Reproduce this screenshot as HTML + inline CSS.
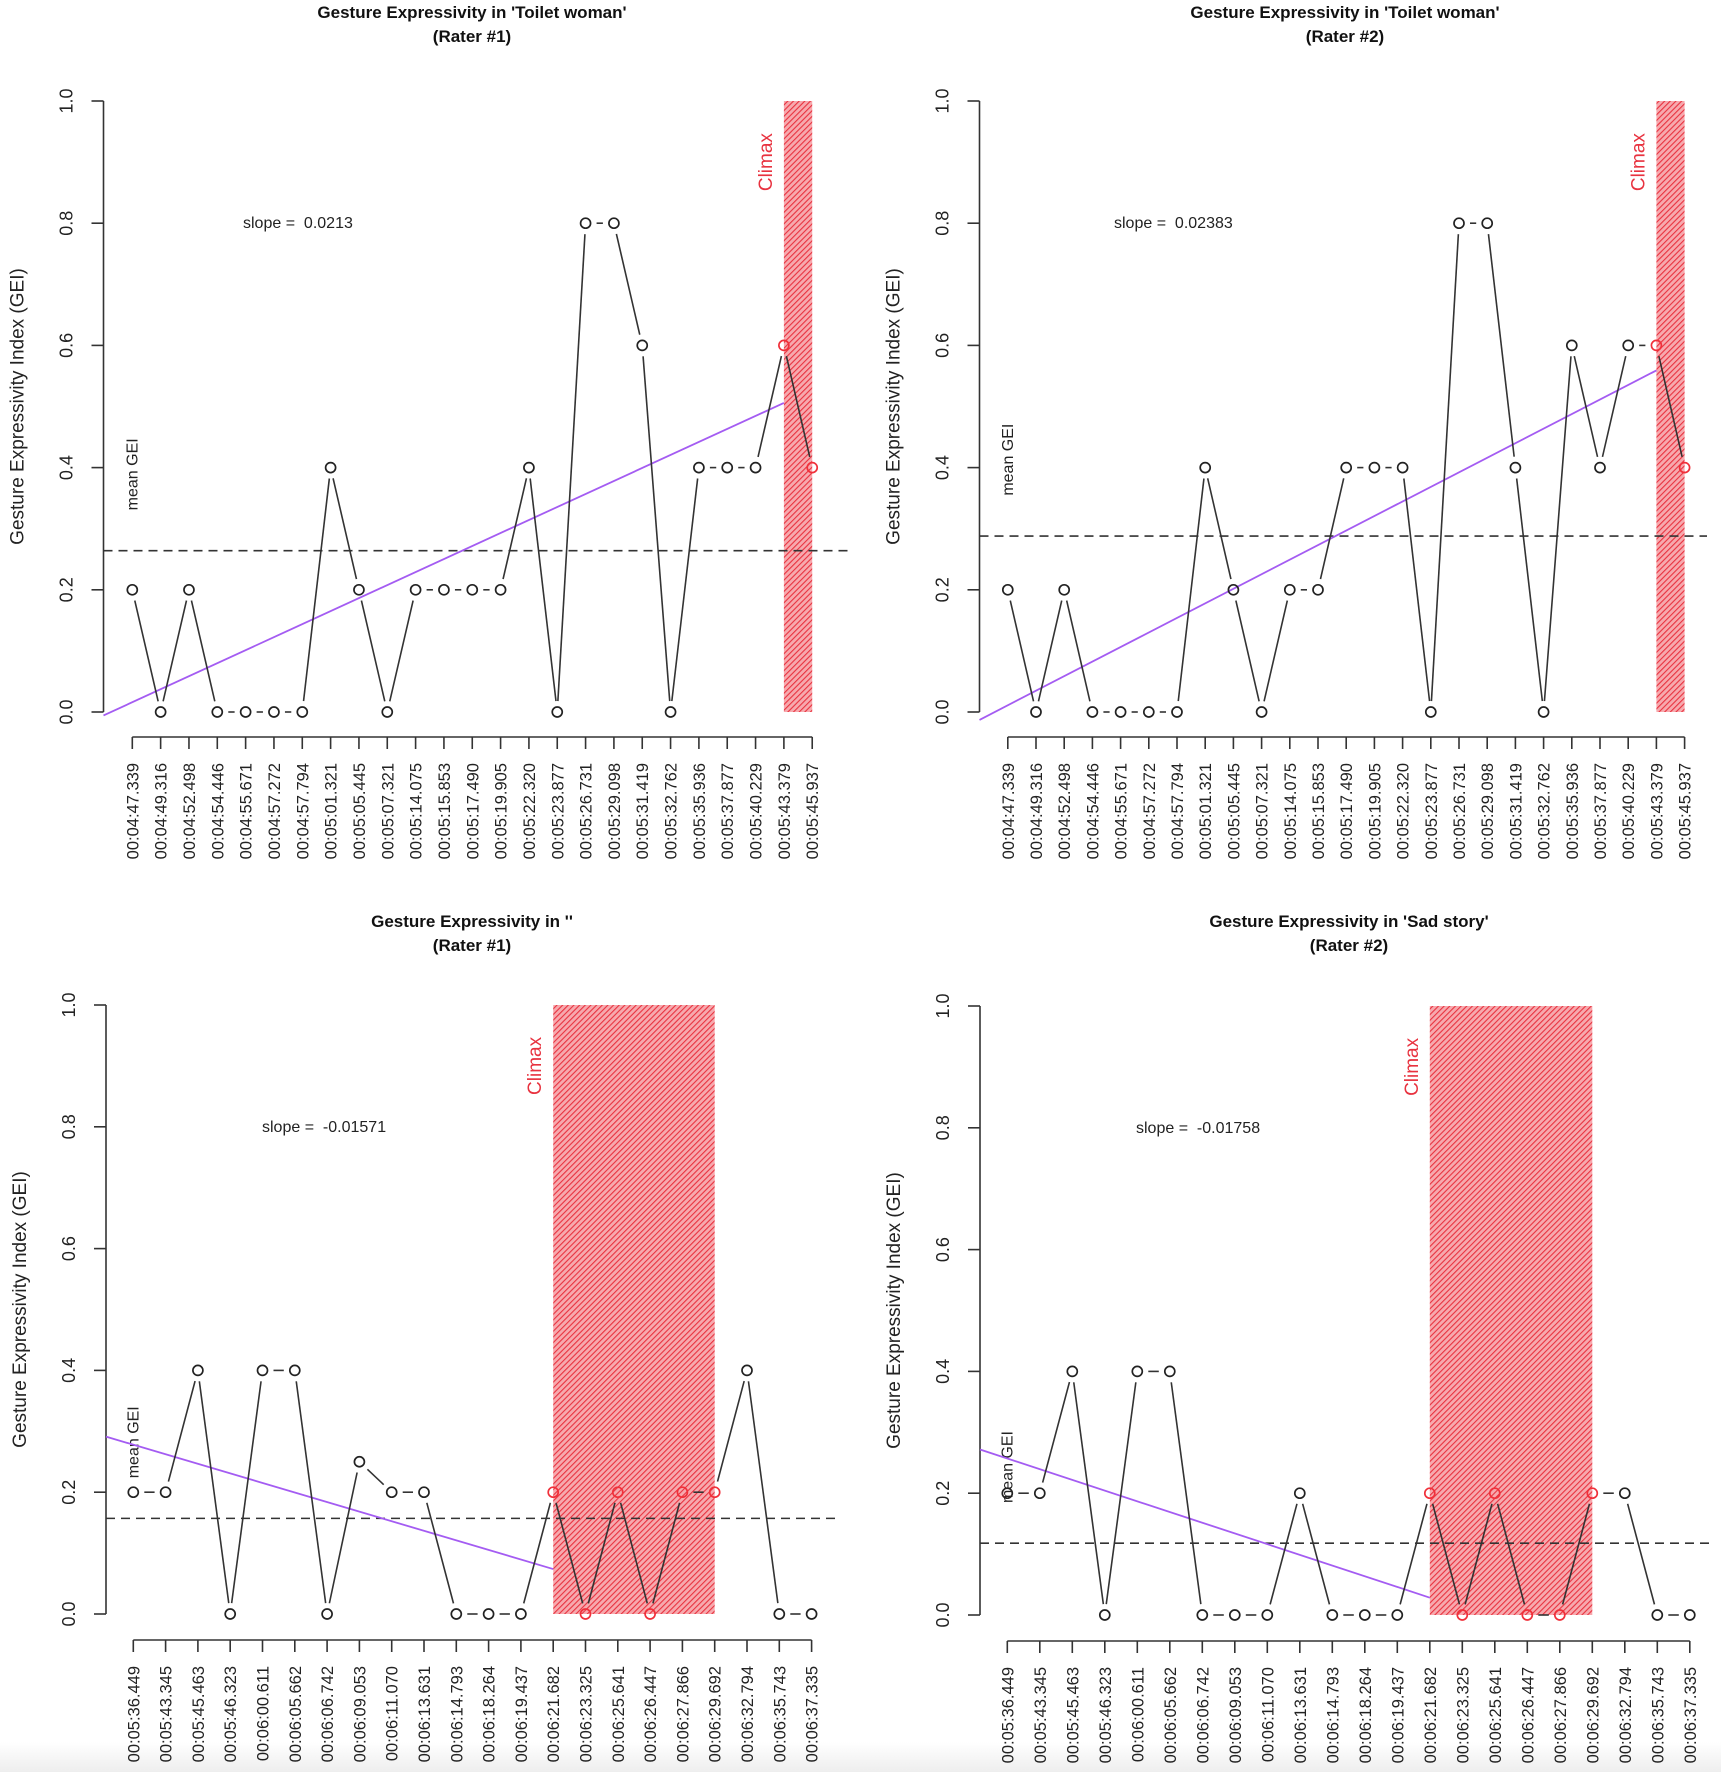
<!DOCTYPE html>
<html><head><meta charset="utf-8"><style>
html,body{margin:0;padding:0;background:#fff;}
svg{display:block;font-family:"Liberation Sans",Arial,sans-serif;}
text{white-space:pre;}
</style></head><body>
<svg id="chart" width="1721" height="1772" viewBox="0 0 1721 1772">
<defs>
<pattern id="hatch" patternUnits="userSpaceOnUse" width="4" height="4" patternTransform="rotate(45)">
<rect width="4" height="4" fill="#f7a9ae"/>
<line x1="0" y1="0" x2="0" y2="4" stroke="#e8323f" stroke-width="2.2"/>
</pattern>
<linearGradient id="fade" x1="0" y1="0" x2="0" y2="1"><stop offset="0" stop-color="#fff"/><stop offset="1" stop-color="#eeeeee"/></linearGradient>
</defs>
<rect x="0" y="1742" width="1721" height="30" fill="url(#fade)"/>
</svg>
<script>
// ---------- data ----------
const labelsA = ["00:04:47.339","00:04:49.316","00:04:52.498","00:04:54.446","00:04:55.671","00:04:57.272","00:04:57.794","00:05:01.321","00:05:05.445","00:05:07.321","00:05:14.075","00:05:15.853","00:05:17.490","00:05:19.905","00:05:22.320","00:05:23.877","00:05:26.731","00:05:29.098","00:05:31.419","00:05:32.762","00:05:35.936","00:05:37.877","00:05:40.229","00:05:43.379","00:05:45.937"];
const labelsB = ["00:05:36.449","00:05:43.345","00:05:45.463","00:05:46.323","00:06:00.611","00:06:05.662","00:06:06.742","00:06:09.053","00:06:11.070","00:06:13.631","00:06:14.793","00:06:18.264","00:06:19.437","00:06:21.682","00:06:23.325","00:06:25.641","00:06:26.447","00:06:27.866","00:06:29.692","00:06:32.794","00:06:35.743","00:06:37.335"];
const valuesTL = [0.2,0,0.2,0,0,0,0,0.4,0.2,0,0.2,0.2,0.2,0.2,0.4,0,0.8,0.8,0.6,0,0.4,0.4,0.4,0.6,0.4];
const valuesTR = [0.2,0,0.2,0,0,0,0,0.4,0.2,0,0.2,0.2,0.4,0.4,0.4,0,0.8,0.8,0.4,0,0.6,0.4,0.6,0.6,0.4];
const valuesBL = [0.2,0.2,0.4,0,0.4,0.4,0,0.25,0.2,0.2,0,0,0,0.2,0,0.2,0,0.2,0.2,0.4,0,0];
const valuesBR = [0.2,0.2,0.4,0,0.4,0.4,0,0,0,0.2,0,0,0,0.2,0,0.2,0,0,0.2,0.2,0,0];
const meansGEI = [0.264,0.288,0.157,0.118];
const slopes = [0.0213,0.02383,-0.01571,-0.01758];
const intercepts = [0.016,0.011,0.278,0.257];
const climaxStart = [23,23,13,13];
const climaxEnd = [24,24,18,18];
const yTicks = [0,0.2,0.4,0.6,0.8,1.0];
const titles = ["Gesture Expressivity in 'Toilet woman'","Gesture Expressivity in 'Toilet woman'","Gesture Expressivity in ''","Gesture Expressivity in 'Sad story'"];
const raters = ["(Rater #1)","(Rater #2)","(Rater #1)","(Rater #2)"];

// ---------- layout ----------
const panels = [
 {key:'top-left', vals:valuesTL, labels:labelsA, ax:103.5, x0:132.3, dx:28.33, y0:712, y1:101, xAxisY:737, tx:472, ty:18, slopeX:243, right:849},
 {key:'top-right', vals:valuesTR, labels:labelsA, ax:979.5, x0:1007.8, dx:28.2, y0:712, y1:101, xAxisY:737, tx:1345, ty:18, slopeX:1114, right:1707},
 {key:'bottom-left', vals:valuesBL, labels:labelsB, ax:106, x0:133.3, dx:32.3, y0:1614, y1:1005, xAxisY:1640, tx:472, ty:927, slopeX:262, right:835},
 {key:'bottom-right', vals:valuesBR, labels:labelsB, ax:980, x0:1007.3, dx:32.5, y0:1615, y1:1006, xAxisY:1641, tx:1349, ty:927, slopeX:1136, right:1714}
];
const svg = document.getElementById('chart');
const NS = 'http://www.w3.org/2000/svg';
function mk(tag, attrs, parent, text){
  const e = document.createElementNS(NS, tag);
  for (const k in attrs) e.setAttribute(k, attrs[k]);
  if (text !== undefined) e.textContent = text;
  (parent||svg).appendChild(e);
  return e;
}
function fmtSlope(s){ return 'slope =  ' + s; }

panels.forEach((p, pi) => {
  const g = mk('g', {});
  
  
  const X = i => p.x0 + i * p.dx;
  const Y = v => p.y0 - v * (p.y0 - p.y1);
  const n = p.vals.length;

  const t1 = mk('text', {x:p.tx, y:p.ty, 'text-anchor':'middle', 'font-size':17, 'font-weight':'bold', fill:'#111'}, g, titles[pi]);
  
  
  const t2 = mk('text', {x:p.tx, y:p.ty+24, 'text-anchor':'middle', 'font-size':17, 'font-weight':'bold', fill:'#111'}, g, raters[pi]);
  
  

  const bx = X(climaxStart[pi]), bw = X(climaxEnd[pi]) - bx;
  const band = mk('rect', {x:bx, y:Y(1), width:bw, height:Y(0)-Y(1), fill:'url(#hatch)'}, g);
  
  
  const cx = bx - 12, cy = Y(0.9);
  const ct = mk('text', {x:cx, y:cy, 'text-anchor':'middle', 'font-size':19, fill:'#e8323f', transform:`rotate(-90 ${cx} ${cy})`}, g, 'Climax');
  
  

  const ya = mk('g', {}, g);
  
  
  mk('line', {x1:p.ax, y1:Y(0), x2:p.ax, y2:Y(1), stroke:'#333', 'stroke-width':1.6}, ya);
  yTicks.forEach(v => {
    mk('line', {x1:p.ax-12, y1:Y(v), x2:p.ax, y2:Y(v), stroke:'#333', 'stroke-width':1.6}, ya);
    const lx = p.ax - 31, ly = Y(v);
    const tl = mk('text', {x:lx, y:ly, 'text-anchor':'middle', 'font-size':18, fill:'#222', transform:`rotate(-90 ${lx} ${ly})`}, ya, v.toFixed(1));
    
    
  });
  const yx = p.ax - 80, yy = (Y(0)+Y(1))/2;
  const yt = mk('text', {x:yx, y:yy, 'text-anchor':'middle', 'font-size':19, fill:'#222', transform:`rotate(-90 ${yx} ${yy})`}, g, 'Gesture Expressivity Index (GEI)');
  
  

  const xa = mk('g', {}, g);
  
  
  mk('line', {x1:X(0), y1:p.xAxisY, x2:X(n-1), y2:p.xAxisY, stroke:'#333', 'stroke-width':1.6}, xa);
  p.labels.forEach((lab, i) => {
    mk('line', {x1:X(i), y1:p.xAxisY, x2:X(i), y2:p.xAxisY+12, stroke:'#333', 'stroke-width':1.6}, xa);
    const lx = X(i)+6, ly = p.xAxisY + 26;
    const tl = mk('text', {x:lx, y:ly, 'text-anchor':'end', 'font-size':16.5, fill:'#222', transform:`rotate(-90 ${lx} ${ly})`}, xa, lab);
    
    
  });

  const ml = mk('line', {x1:p.ax, y1:Y(meansGEI[pi]), x2:p.right, y2:Y(meansGEI[pi]), stroke:'#333', 'stroke-width':1.6, 'stroke-dasharray':'9 6'}, g);
  
  
  const mx = X(0)+5, my = Y(meansGEI[pi] + 0.125);
  const mt = mk('text', {x:mx, y:my, 'text-anchor':'middle', 'font-size':16, fill:'#222', transform:`rotate(-90 ${mx} ${my})`}, g, 'mean GEI');
  
  

  const iA = (p.ax - p.x0) / p.dx, iB = climaxStart[pi];
  const reg = mk('line', {x1:X(iA), y1:Y(intercepts[pi] + slopes[pi]*iA), x2:X(iB), y2:Y(intercepts[pi] + slopes[pi]*iB), stroke:'#a45cf2', 'stroke-width':1.8}, g);
  
  
  const st = mk('text', {x:p.slopeX, y:Y(0.8)+5, 'font-size':16, fill:'#222'}, g, fmtSlope(slopes[pi]));
  
  

  const gap = 11;
  for (let i = 0; i < n-1; i++) {
    const xA = X(i), yA = Y(p.vals[i]), xB = X(i+1), yB = Y(p.vals[i+1]);
    const L = Math.hypot(xB-xA, yB-yA);
    if (L <= 2*gap) continue;
    const ux = (xB-xA)/L, uy = (yB-yA)/L;
    const seg = mk('line', {x1:xA+ux*gap, y1:yA+uy*gap, x2:xB-ux*gap, y2:yB-uy*gap, stroke:'#333', 'stroke-width':1.6}, g);
    
    
  }
  p.vals.forEach((v, i) => {
    const inClimax = i >= climaxStart[pi] && i <= climaxEnd[pi];
    const c = mk('circle', {cx:X(i), cy:Y(v), r:5, fill:'none', stroke: inClimax ? '#f0303a' : '#222', 'stroke-width':1.7}, g);
    
    
  });
});
</script>
</body></html>
